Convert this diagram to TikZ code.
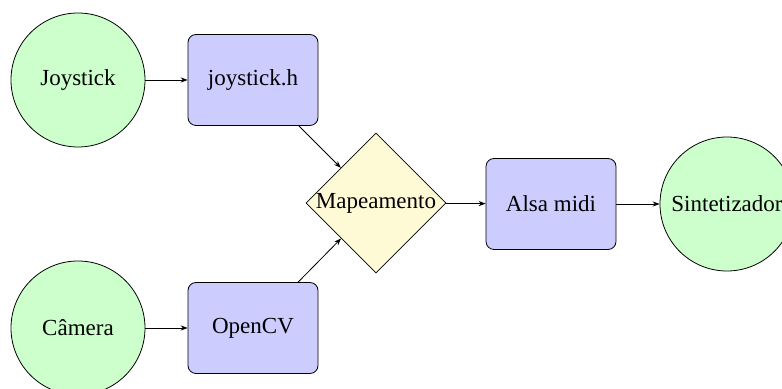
\documentclass[tikz,border=0pt]{standalone}
\usepackage{fontspec}
\setmainfont{Liberation Serif}
\usetikzlibrary{shapes.geometric,arrows.meta}
\definecolor{srcgreen}{RGB}{204,255,204}
\definecolor{libblue}{RGB}{204,204,255}
\definecolor{mapyellow}{RGB}{255,250,214}
\tikzset{
  srcnode/.style={circle, draw, fill=srcgreen, minimum size=67pt, inner sep=0pt},
  libnode/.style={rectangle, rounded corners=4pt, draw, fill=libblue, minimum width=65pt, minimum height=45.5pt},
  mapnode/.style={diamond, draw, fill=mapyellow, minimum width=68pt, minimum height=66pt, inner sep=0pt},
  flow/.style={-{Stealth[length=3.5pt,width=2.6pt]}, line width=0.4pt}
}
\begin{document}
\begin{tikzpicture}[x=0.5pt,y=-0.5pt, font=\fontsize{11.5pt}{13pt}\selectfont]
  \useasboundingbox (0,0) rectangle (782,389);
  \node[srcnode] (joy) at (78,80) {Joystick};
  \node[libnode] (joyh) at (253,80) {joystick.h};
  \node[srcnode] (cam) at (78,328) {Câmera};
  \node[libnode] (cv) at (253,328) {OpenCV};
  \node[mapnode] (map) at (376,203) {Mapeamento};
  \node[libnode] (alsa) at (551,204) {Alsa midi};
  \node[srcnode] (synth) at (727,204) {Sintetizador};
  \draw[flow] (joy) -- (joyh);
  \draw[flow] (cam) -- (cv);
  \draw[flow] (joyh) -- (map);
  \draw[flow] (cv) -- (map);
  \draw[flow] (map) -- (alsa);
  \draw[flow] (alsa) -- (synth);
\end{tikzpicture}
\end{document}
